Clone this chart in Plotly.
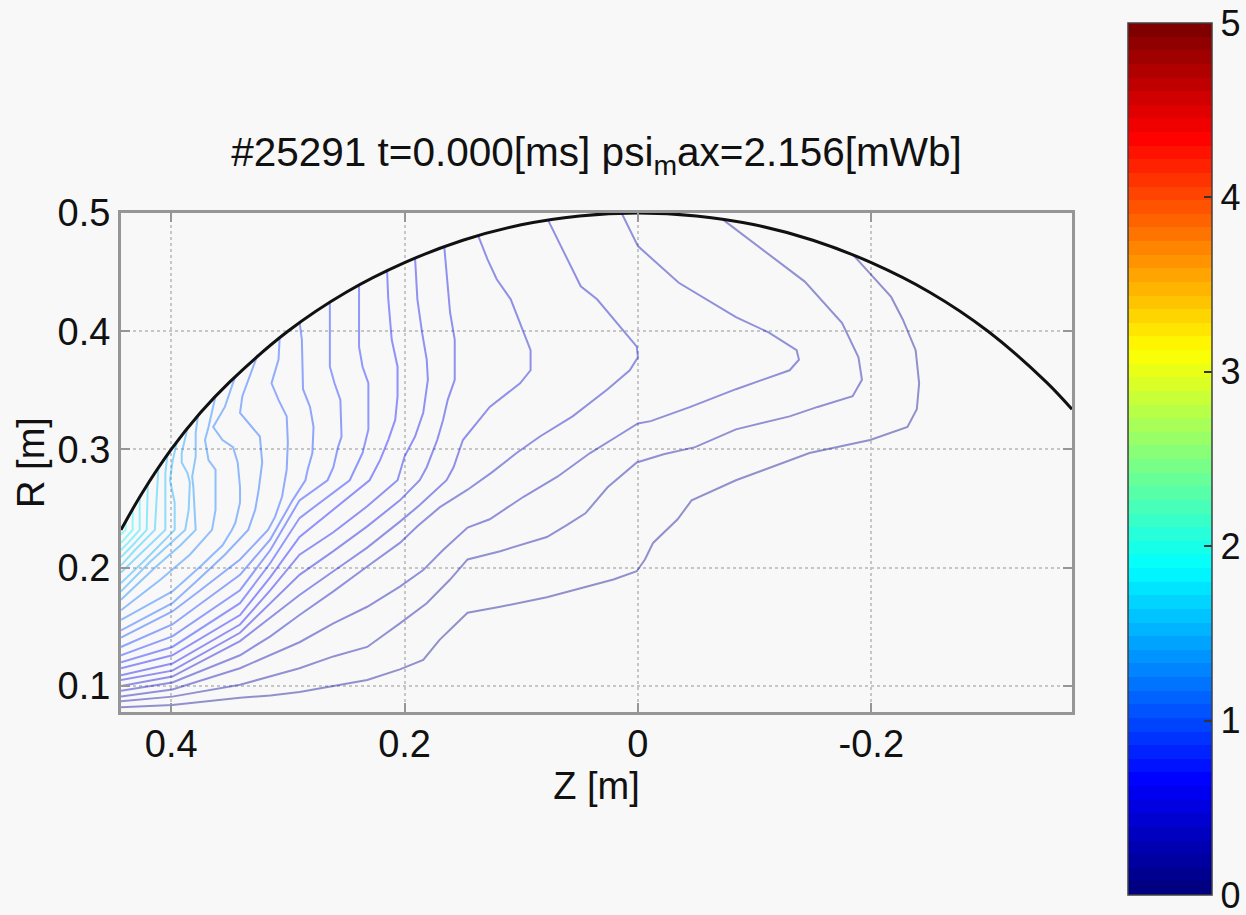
import plotly.graph_objects as go

# ---------------- data ----------------
psi_levels = [0.08, 0.16, 0.24, 0.32, 0.40, 0.48, 0.56, 0.64, 0.72, 0.80, 0.88, 0.96,
              1.04, 1.12, 1.20, 1.28, 1.36, 1.44, 1.52, 1.60, 1.68, 1.76, 1.84, 1.92]

z_01 = [0.443, 0.399, 0.341, 0.315, 0.290, 0.232, 0.204, 0.184, 0.170, 0.146, 0.118, 0.078, 0.021, 0.001, -0.006, -0.013, -0.034, -0.046, -0.084, -0.147, -0.199, -0.231, -0.239, -0.241, -0.238, -0.227, -0.217, -0.203, -0.184]
r_01 = [0.082, 0.084, 0.090, 0.092, 0.095, 0.105, 0.114, 0.122, 0.139, 0.162, 0.167, 0.175, 0.190, 0.197, 0.207, 0.221, 0.241, 0.257, 0.274, 0.297, 0.308, 0.319, 0.334, 0.356, 0.384, 0.410, 0.429, 0.444, 0.465]
z_02 = [0.443, 0.399, 0.341, 0.315, 0.290, 0.261, 0.232, 0.204, 0.181, 0.161, 0.146, 0.118, 0.078, 0.061, 0.045, 0.026, 0.001, -0.022, -0.049, -0.084, -0.130, -0.154, -0.184, -0.192, -0.189, -0.175, -0.143, -0.072]
r_02 = [0.087, 0.091, 0.101, 0.108, 0.115, 0.125, 0.133, 0.153, 0.170, 0.190, 0.207, 0.214, 0.226, 0.236, 0.246, 0.268, 0.289, 0.296, 0.302, 0.317, 0.328, 0.336, 0.345, 0.359, 0.378, 0.407, 0.442, 0.495]
z_03 = [0.443, 0.399, 0.341, 0.315, 0.290, 0.261, 0.232, 0.204, 0.184, 0.167, 0.146, 0.127, 0.098, 0.069, 0.041, 0.018, 0.000, -0.011, -0.045, -0.084, -0.130, -0.138, -0.136, -0.112, -0.084, -0.035, 0.000, 0.014]
r_03 = [0.091, 0.097, 0.115, 0.126, 0.137, 0.153, 0.167, 0.184, 0.198, 0.215, 0.234, 0.241, 0.260, 0.277, 0.297, 0.311, 0.322, 0.324, 0.336, 0.351, 0.367, 0.376, 0.384, 0.399, 0.412, 0.441, 0.472, 0.500]
z_04 = [0.443, 0.399, 0.341, 0.315, 0.290, 0.261, 0.232, 0.204, 0.189, 0.170, 0.146, 0.126, 0.104, 0.084, 0.056, 0.026, 0.007, 0.000, 0.001, 0.013, 0.035, 0.049, 0.077]
r_04 = [0.096, 0.103, 0.126, 0.142, 0.160, 0.180, 0.201, 0.221, 0.235, 0.251, 0.266, 0.280, 0.297, 0.311, 0.328, 0.351, 0.367, 0.378, 0.387, 0.401, 0.427, 0.438, 0.494]
z_05 = [0.443, 0.399, 0.341, 0.315, 0.290, 0.261, 0.232, 0.204, 0.187, 0.164, 0.158, 0.150, 0.141, 0.127, 0.101, 0.092, 0.092, 0.098, 0.109, 0.121, 0.129, 0.137]
r_05 = [0.100, 0.108, 0.138, 0.158, 0.177, 0.197, 0.217, 0.239, 0.253, 0.274, 0.285, 0.308, 0.319, 0.336, 0.356, 0.367, 0.384, 0.399, 0.427, 0.444, 0.461, 0.481]
z_06 = [0.443, 0.399, 0.341, 0.315, 0.290, 0.261, 0.232, 0.204, 0.187, 0.181, 0.172, 0.167, 0.163, 0.157, 0.157, 0.161, 0.164, 0.166]
r_06 = [0.105, 0.113, 0.145, 0.170, 0.194, 0.214, 0.235, 0.257, 0.274, 0.285, 0.308, 0.325, 0.342, 0.359, 0.393, 0.416, 0.452, 0.472]
z_07 = [0.443, 0.399, 0.341, 0.315, 0.290, 0.261, 0.232, 0.206, 0.200, 0.191, 0.184, 0.180, 0.181, 0.185, 0.189, 0.191]
r_07 = [0.109, 0.119, 0.152, 0.181, 0.211, 0.230, 0.252, 0.274, 0.294, 0.311, 0.331, 0.359, 0.376, 0.399, 0.427, 0.462]
z_08 = [0.443, 0.399, 0.341, 0.315, 0.290, 0.261, 0.230, 0.221, 0.214, 0.208, 0.206, 0.206, 0.211, 0.214, 0.215]
r_08 = [0.115, 0.126, 0.160, 0.192, 0.226, 0.249, 0.274, 0.291, 0.308, 0.325, 0.345, 0.370, 0.393, 0.428, 0.452]
z_09 = [0.443, 0.399, 0.341, 0.315, 0.290, 0.261, 0.247, 0.236, 0.231, 0.231, 0.236, 0.239, 0.239]
r_09 = [0.120, 0.133, 0.170, 0.204, 0.242, 0.264, 0.274, 0.297, 0.317, 0.356, 0.370, 0.387, 0.439]
z_10 = [0.443, 0.399, 0.341, 0.315, 0.290, 0.266, 0.261, 0.257, 0.254, 0.255, 0.260, 0.264, 0.264]
r_10 = [0.126, 0.142, 0.181, 0.215, 0.257, 0.274, 0.285, 0.302, 0.311, 0.342, 0.356, 0.370, 0.425]
z_11 = [0.443, 0.399, 0.341, 0.315, 0.296, 0.285, 0.283, 0.279, 0.278, 0.281, 0.287, 0.288, 0.290]
r_11 = [0.133, 0.152, 0.194, 0.224, 0.257, 0.274, 0.283, 0.297, 0.319, 0.336, 0.351, 0.393, 0.408]
z_12 = [0.443, 0.399, 0.375, 0.341, 0.317, 0.311, 0.305, 0.301, 0.300, 0.301, 0.308, 0.314, 0.308, 0.307]
r_12 = [0.141, 0.163, 0.181, 0.207, 0.232, 0.243, 0.260, 0.283, 0.306, 0.328, 0.342, 0.356, 0.376, 0.395]
z_13 = [0.443, 0.399, 0.379, 0.354, 0.334, 0.328, 0.325, 0.322, 0.324, 0.331, 0.341, 0.339, 0.334, 0.326]
r_13 = [0.147, 0.170, 0.188, 0.211, 0.232, 0.249, 0.266, 0.289, 0.311, 0.319, 0.331, 0.345, 0.359, 0.380]
z_14 = [0.443, 0.399, 0.375, 0.356, 0.348, 0.345, 0.341, 0.341, 0.343, 0.347, 0.356, 0.364, 0.354, 0.345]
r_14 = [0.156, 0.180, 0.201, 0.219, 0.232, 0.238, 0.255, 0.268, 0.289, 0.302, 0.308, 0.319, 0.336, 0.362]
z_15 = [0.443, 0.409, 0.384, 0.365, 0.362, 0.362, 0.362, 0.368, 0.371, 0.368, 0.362]
r_15 = [0.164, 0.190, 0.211, 0.232, 0.249, 0.266, 0.283, 0.291, 0.308, 0.319, 0.345]
z_16 = [0.443, 0.414, 0.392, 0.379, 0.381, 0.382, 0.379, 0.379, 0.377]
r_16 = [0.173, 0.200, 0.219, 0.232, 0.268, 0.277, 0.294, 0.314, 0.329]
z_17 = [0.443, 0.418, 0.388, 0.385, 0.384, 0.386, 0.391, 0.391, 0.386]
r_17 = [0.180, 0.205, 0.232, 0.249, 0.272, 0.280, 0.289, 0.297, 0.318]
z_18 = [0.443, 0.422, 0.397, 0.397, 0.401, 0.399, 0.395]
r_18 = [0.187, 0.207, 0.232, 0.255, 0.274, 0.289, 0.307]
z_19 = [0.443, 0.427, 0.405, 0.405, 0.403]
r_19 = [0.196, 0.211, 0.232, 0.280, 0.297]
z_20 = [0.443, 0.431, 0.414, 0.412, 0.411]
r_20 = [0.202, 0.215, 0.232, 0.274, 0.284]
z_21 = [0.443, 0.433, 0.421, 0.420]
r_21 = [0.209, 0.219, 0.232, 0.272]
z_22 = [0.443, 0.437, 0.427, 0.427]
r_22 = [0.215, 0.221, 0.232, 0.261]
z_23 = [0.443, 0.433, 0.433]
r_23 = [0.221, 0.232, 0.249]
z_24 = [0.443, 0.439, 0.439]
r_24 = [0.228, 0.232, 0.239]

boundary_z = [0.443, 0.425, 0.40, 0.375, 0.35, 0.30, 0.25, 0.20, 0.15, 0.10, 0.05, 0.0,
              -0.05, -0.10, -0.15, -0.20, -0.25, -0.30, -0.35, -0.372]
boundary_r = [0.232, 0.263, 0.300, 0.331, 0.357, 0.400, 0.433, 0.458, 0.477, 0.490, 0.4975, 0.500,
              0.4975, 0.490, 0.477, 0.458, 0.433, 0.400, 0.357, 0.334]

x_tick_vals = [0.4, 0.2, 0.0, -0.2]
x_tick_text = ["0.4", "0.2", "0", "-0.2"]
y_tick_vals = [0.1, 0.2, 0.3, 0.4, 0.5]
y_tick_text = ["0.1", "0.2", "0.3", "0.4", "0.5"]
cbar_tick_vals = [0, 1, 2, 3, 4, 5]
c_min, c_max = 0, 5

title_text = "#25291 t=0.000[ms] psi<sub>m</sub>ax=2.156[mWb]"

line_z = [z_01, z_02, z_03, z_04, z_05, z_06, z_07, z_08, z_09, z_10, z_11, z_12,
          z_13, z_14, z_15, z_16, z_17, z_18, z_19, z_20, z_21, z_22, z_23, z_24]
line_r = [r_01, r_02, r_03, r_04, r_05, r_06, r_07, r_08, r_09, r_10, r_11, r_12,
          r_13, r_14, r_15, r_16, r_17, r_18, r_19, r_20, r_21, r_22, r_23, r_24]


# ---------------- MATLAB-like jet colormap (64 steps) ----------------
def jet(t):
    r = min(max(min(4 * t - 1.5, -4 * t + 4.5), 0), 1)
    g = min(max(min(4 * t - 0.5, -4 * t + 3.5), 0), 1)
    b = min(max(min(4 * t + 0.5, -4 * t + 2.5), 0), 1)
    return int(round(r * 255)), int(round(g * 255)), int(round(b * 255))


N_MAP = 64
jet64 = []
for i in range(N_MAP):
    c = "rgb(%d,%d,%d)" % jet(i / (N_MAP - 1))
    jet64.append([i / N_MAP, c])
    jet64.append([(i + 1) / N_MAP, c])


def level_color(v, alpha=0.42):
    idx = min(int((v - c_min) / (c_max - c_min) * N_MAP), N_MAP - 1)
    r, g, b = jet(idx / (N_MAP - 1))
    return "rgba(%d,%d,%d,%.2f)" % (r, g, b, alpha)


fig = go.Figure()

for zs, rs, lv in zip(line_z, line_r, psi_levels):
    fig.add_trace(go.Scatter(x=zs, y=rs, mode="lines",
                             line=dict(color=level_color(lv), width=2),
                             hoverinfo="skip", showlegend=False))

fig.add_trace(go.Scatter(x=boundary_z, y=boundary_r, mode="lines",
                         line=dict(color="#111111", width=3, shape="spline"),
                         hoverinfo="skip", showlegend=False))

# plot area in pixels: left 121, right 1072, top 213, bottom 712
PL, PR, PT, PB = 121, 1072, 213, 712
fig.add_trace(go.Scatter(
    x=[None], y=[None], mode="markers", hoverinfo="skip", showlegend=False,
    marker=dict(color=[0], cmin=c_min, cmax=c_max, colorscale=jet64, showscale=True,
                colorbar=dict(x=(1128 - PL) / (PR - PL), xanchor="left", xpad=0,
                              y=(PB - 459) / (PB - PT), yanchor="middle", ypad=0,
                              len=872, lenmode="pixels",
                              thickness=84, thicknessmode="pixels",
                              outlinecolor="#404040", outlinewidth=1.5,
                              tickvals=cbar_tick_vals, ticks="inside", ticklen=8,
                              tickcolor="#333333", tickwidth=2,
                              ticklabeloverflow="allow",
                              tickfont=dict(size=36, color="#111111")))))

FONT = "Liberation Sans, Arial, Helvetica, sans-serif"
fig.update_layout(
    width=1246, height=915,
    margin=dict(l=PL, r=1246 - PR, t=PT, b=915 - PB, autoexpand=False),
    paper_bgcolor="#f8f8f8", plot_bgcolor="#f8f8f8",
    font=dict(family=FONT, size=38, color="#111111"),
    showlegend=False,
    title=dict(text=title_text, x=0.5, xref="paper", xanchor="center",
               y=1 - 152 / 915, yref="container", yanchor="middle",
               font=dict(size=40.5, color="#111111")),
)
axis_common = dict(ticks="inside", ticklen=9, tickwidth=2, tickcolor="#969696",
                   showline=True, linecolor="#969696", linewidth=3, mirror="ticks",
                   showgrid=True, gridcolor="#c6c6c6", griddash="dot", gridwidth=1.5,
                   zeroline=False, tickfont=dict(size=38))
fig.update_xaxes(range=[0.443, -0.372], tickvals=x_tick_vals, ticktext=x_tick_text,
                 ticklabelstandoff=-4,
                 title=dict(text="Z [m]", standoff=2, font=dict(size=38)), **axis_common)
fig.update_yaxes(range=[0.078, 0.5], tickvals=y_tick_vals, ticktext=y_tick_text,
                 ticklabelstandoff=0,
                 title=dict(text="R [m]", standoff=2, font=dict(size=38)), **axis_common)

fig.write_html("out.html")
